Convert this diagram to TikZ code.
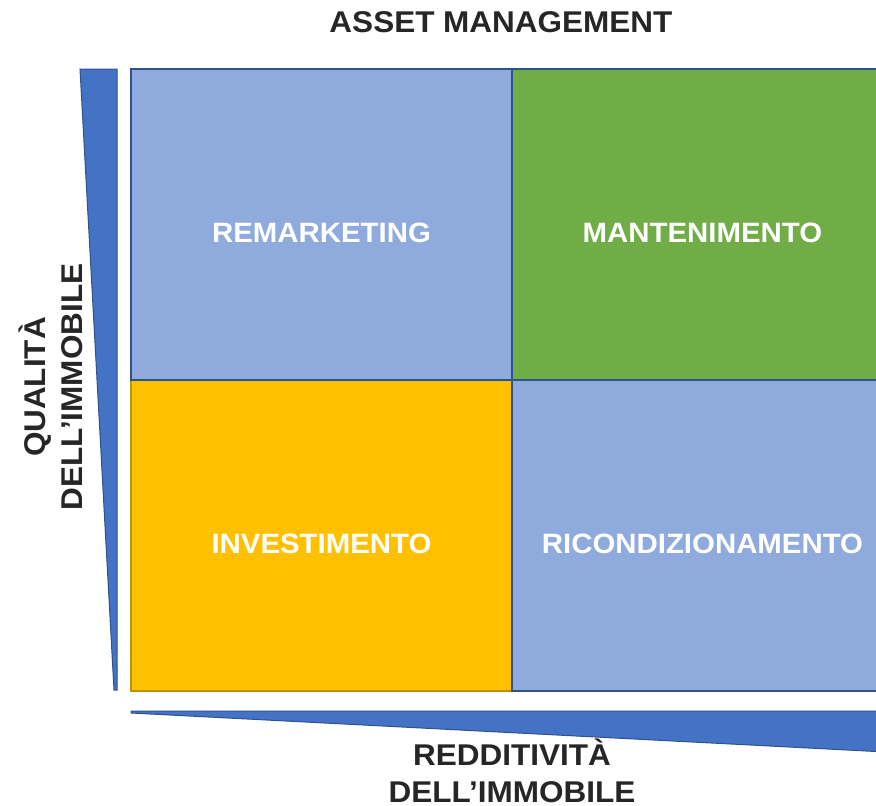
\documentclass[tikz,border=0pt]{standalone}
\usepackage{fontspec}
\setmainfont[FakeStretch=1.05]{Liberation Sans}
\usetikzlibrary{positioning}

\definecolor{cellblue}{HTML}{8FAADC}
\definecolor{cellgreen}{HTML}{70AD47}
\definecolor{cellgold}{HTML}{FFC000}
\definecolor{goldline}{HTML}{BF9000}
\definecolor{wedgeblue}{HTML}{4472C4}
\definecolor{edgeblue}{HTML}{2F528F}
\definecolor{labelgray}{HTML}{262626}

\begin{document}
\begin{tikzpicture}[x=1pt, y=-1pt, node distance=0pt]
  \tikzstyle{cell} = [rectangle, draw=edgeblue, line width=2pt, inner sep=0pt,
    outer sep=0pt, minimum width=381pt, minimum height=311pt]
  \tikzstyle{celltext} = [text=white, font=\bfseries\fontsize{28}{34}\selectfont]
  \tikzstyle{axislabel} = [text=labelgray, align=center,
    font=\bfseries\fontsize{30}{37}\selectfont]
  \tikzstyle{wedge} = [fill=wedgeblue, draw=edgeblue, line width=1pt]

  \useasboundingbox (0,0) rectangle (876,806);
  \clip (0,0) rectangle (876,806);

  % Place cells
  \node [cell, fill=cellgold, draw=goldline] (invest) at (321.5,535.5) {};
  \node [cell, fill=cellblue, above=of invest] (remark) {};
  \node [cell, fill=cellblue, right=of invest] (ricond) {};
  \node [cell, fill=cellgreen, right=of remark] (manten) {};

  % Cell texts
  \node [celltext] (remarktxt) at ([yshift=-8pt]remark.center) {REMARKETING};
  \node [celltext] (mantentxt) at ([yshift=-8pt]manten.center) {MANTENIMENTO};
  \node [celltext] (investtxt) at ([yshift=-8pt]invest.center) {INVESTIMENTO};
  \node [celltext] (ricondtxt) at ([yshift=-8pt]ricond.center) {RICONDIZIONAMENTO};

  % Axis wedges
  \draw [wedge] (80,69) -- (117,69) -- (117,690) -- (114,690) -- cycle;
  \draw [wedge] (131,711) -- (905,711) -- (905,753) -- (131,713) -- cycle;

  % Titles
  \node [axislabel] (title) at (501,22) {ASSET MANAGEMENT};
  \node [axislabel, rotate=90] (quality) at (51,387) {QUALITÀ\\DELL’IMMOBILE};
  \node [axislabel] (yield) at (512,771) {REDDITIVITÀ\\DELL’IMMOBILE};
\end{tikzpicture}
\end{document}
